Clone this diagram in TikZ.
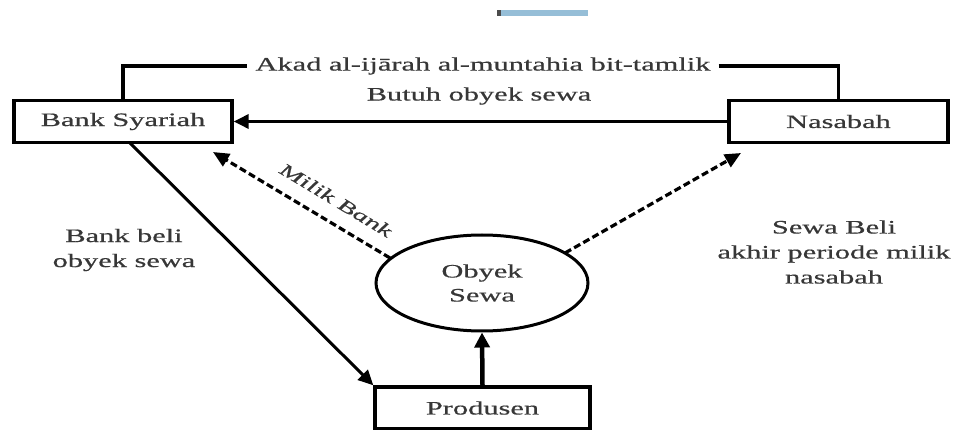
\documentclass[tikz,border=0pt]{standalone}
\usepackage{fontspec}
\setmainfont{Liberation Serif}[FakeStretch=1.6,FakeBold=0.6]
\usetikzlibrary{arrows.meta,shapes.geometric,calc}
\definecolor{txt}{RGB}{55,55,55}
\definecolor{artblue}{RGB}{150,190,215}
\begin{document}
\begin{tikzpicture}[x=1pt,y=-1pt,
  every node/.style={font=\fontsize{19}{25}\selectfont, text=txt},
  boxn/.style={draw=black, line width=3.4pt, minimum height=42pt, inner sep=0pt},
  ellipsen/.style={draw=black, ellipse, line width=3pt, minimum width=212pt, minimum height=96pt, inner sep=0pt, align=center, font=\fontsize{19}{24}\selectfont},
  solidarrow/.style={line width=3.4pt, -{Triangle[length=15pt,width=14pt]}},
  dasharrow/.style={line width=3.2pt, dash pattern=on 7pt off 3.5pt, -{Triangle[length=16pt,width=14pt]}},
  lbl/.style={align=center, inner sep=1pt}
]
\useasboundingbox (0,0) rectangle (964,430);
% small artefact at top
\fill[artblue] (500,10) rectangle (588,16);
\fill[black!70] (497,10) rectangle (501,16);

\node[boxn, minimum width=218pt] (bank) at (123,121.5) {Bank Syariah};
\node[boxn, minimum width=219pt] (nasabah) at (838.5,121.5) {Nasabah};
\node[boxn, minimum width=215pt, minimum height=42pt] (produsen) at (482.5,408) {Produsen};
\node[ellipsen] (obyek) at (482,283) {Obyek\\Sewa};

\node[lbl, inner sep=8pt] (akad) at (483,66) {Akad al-ijārah al-muntahia bit-tamlik};
\node[lbl] (butuh) at (479,96) {Butuh obyek sewa};
\node[lbl] (beli) at (124,250) {Bank beli\\obyek sewa};
\node[lbl] (sewabeli) at (834,252) {Sewa Beli\\akhir periode milik\\nasabah};
\node[lbl, rotate=-31, font=\itshape\fontsize{18}{22}\selectfont] (milik) at (336,200) {Milik Bank};

\coordinate (bankin) at (213,152);
\coordinate (nasin) at (741,153);
\coordinate (bankout) at (130,143);
\coordinate (obl) at (390,258);
\coordinate (obr) at (565,253);

\draw[line width=3.2pt] (bank.north) |- (akad.west);
\draw[line width=3.2pt] (akad.east) -| (nasabah.north);
\draw[solidarrow] (nasabah.west) -- (bank.east);
\draw[line width=3pt, -{Triangle[length=15pt,width=14pt]}] (bankout) -- (produsen.north west);
\draw[dasharrow] (obl) -- (bankin);
\draw[dasharrow] (obr) -- (nasin);
\draw[line width=4.5pt, -{Triangle[length=15pt,width=15pt]}] (produsen.north) -- (obyek.south);
\end{tikzpicture}
\end{document}
